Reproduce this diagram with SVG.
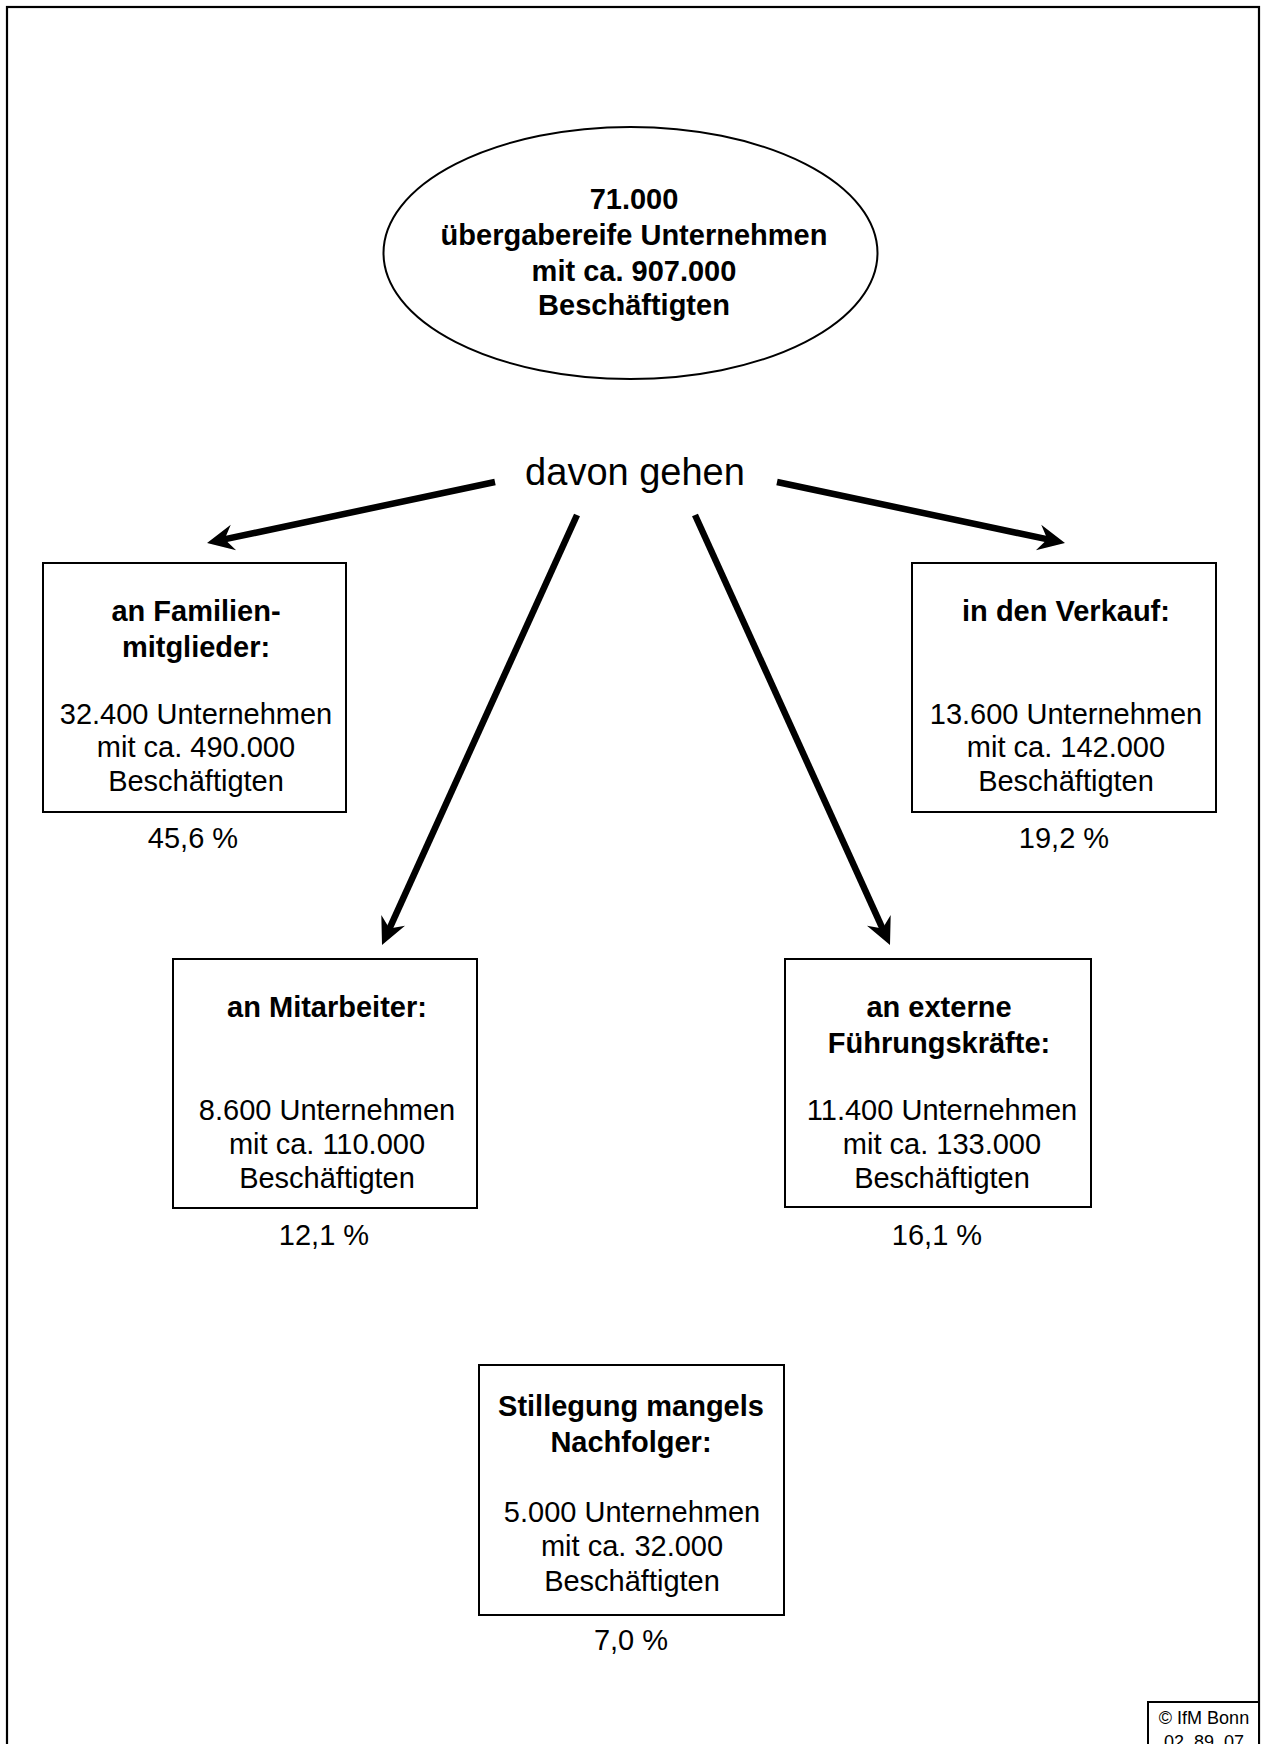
<svg xmlns="http://www.w3.org/2000/svg" width="1264" height="1744" viewBox="0 0 1264 1744">
  <style>
    .t { font-family: "Liberation Sans", Arial, sans-serif; font-size: 29px; fill: #000; text-anchor: middle; }
    .b { font-weight: bold; }
    .box { fill: #fff; stroke: #000; stroke-width: 2; }
    .arrow { stroke: #000; stroke-width: 6.5; fill: none; marker-end: url(#head); }
  </style>
  <defs>
    <marker id="head" markerUnits="userSpaceOnUse" markerWidth="30" markerHeight="30" refX="12" refY="15" orient="auto" overflow="visible">
      <path d="M27,15 L0,2 L9,15 L0,28 Z" fill="#000"/>
    </marker>
  </defs>
  <rect width="1264" height="1744" fill="#fff"/>
  <rect x="7" y="7" width="1252" height="1800" fill="none" stroke="#000" stroke-width="2.2"/>

  <g id="top">
    <ellipse cx="630.5" cy="253" rx="247" ry="126" fill="#fff" stroke="#000" stroke-width="2"/>
    <text class="t b" x="634" y="209">71.000</text>
    <text class="t b" x="634" y="245">übergabereife Unternehmen</text>
    <text class="t b" x="634" y="281">mit ca. 907.000</text>
    <text class="t b" x="634" y="315">Beschäftigten</text>
  </g>

  <g id="label">
    <text class="t" style="font-size:38px" x="635" y="485">davon gehen</text>
  </g>

  <g id="connectors">
    <line class="arrow" x1="495" y1="482" x2="221.7" y2="539.9"/>
    <line class="arrow" x1="777" y1="482" x2="1050.3" y2="539.9"/>
    <line class="arrow" x1="577" y1="515" x2="388.2" y2="931.3"/>
    <line class="arrow" x1="695" y1="515" x2="883.8" y2="931.3"/>
  </g>

  <g id="familie">
    <rect class="box" x="43" y="563" width="303" height="249"/>
    <text class="t b" x="196" y="621">an Familien-</text>
    <text class="t b" x="196" y="657">mitglieder:</text>
    <text class="t" x="196" y="724">32.400 Unternehmen</text>
    <text class="t" x="196" y="757">mit ca. 490.000</text>
    <text class="t" x="196" y="791">Beschäftigten</text>
    <text class="t" x="193" y="848">45,6 %</text>
  </g>

  <g id="verkauf">
    <rect class="box" x="912" y="563" width="304" height="249"/>
    <text class="t b" x="1066" y="621">in den Verkauf:</text>
    <text class="t" x="1066" y="724">13.600 Unternehmen</text>
    <text class="t" x="1066" y="757">mit ca. 142.000</text>
    <text class="t" x="1066" y="791">Beschäftigten</text>
    <text class="t" x="1064" y="848">19,2 %</text>
  </g>

  <g id="mitarbeiter">
    <rect class="box" x="173" y="959" width="304" height="249"/>
    <text class="t b" x="327" y="1017">an Mitarbeiter:</text>
    <text class="t" x="327" y="1120">8.600 Unternehmen</text>
    <text class="t" x="327" y="1154">mit ca. 110.000</text>
    <text class="t" x="327" y="1188">Beschäftigten</text>
    <text class="t" x="324" y="1245">12,1 %</text>
  </g>

  <g id="extern">
    <rect class="box" x="785" y="959" width="306" height="248"/>
    <text class="t b" x="939" y="1017">an externe</text>
    <text class="t b" x="939" y="1053">Führungskräfte:</text>
    <text class="t" x="942" y="1120">11.400 Unternehmen</text>
    <text class="t" x="942" y="1154">mit ca. 133.000</text>
    <text class="t" x="942" y="1188">Beschäftigten</text>
    <text class="t" x="937" y="1245">16,1 %</text>
  </g>

  <g id="stillegung">
    <rect class="box" x="479" y="1365" width="305" height="250"/>
    <text class="t b" x="631" y="1416">Stillegung mangels</text>
    <text class="t b" x="631" y="1452">Nachfolger:</text>
    <text class="t" x="632" y="1522">5.000 Unternehmen</text>
    <text class="t" x="632" y="1556">mit ca. 32.000</text>
    <text class="t" x="632" y="1591">Beschäftigten</text>
    <text class="t" x="631" y="1650">7,0 %</text>
  </g>

  <g id="copyright">
    <rect class="box" x="1148" y="1702" width="111" height="60"/>
    <text class="t" style="font-size:18px" x="1204" y="1724">© IfM Bonn</text>
    <text class="t" style="font-size:18px" x="1204" y="1748">02. 89. 07</text>
  </g>
</svg>
